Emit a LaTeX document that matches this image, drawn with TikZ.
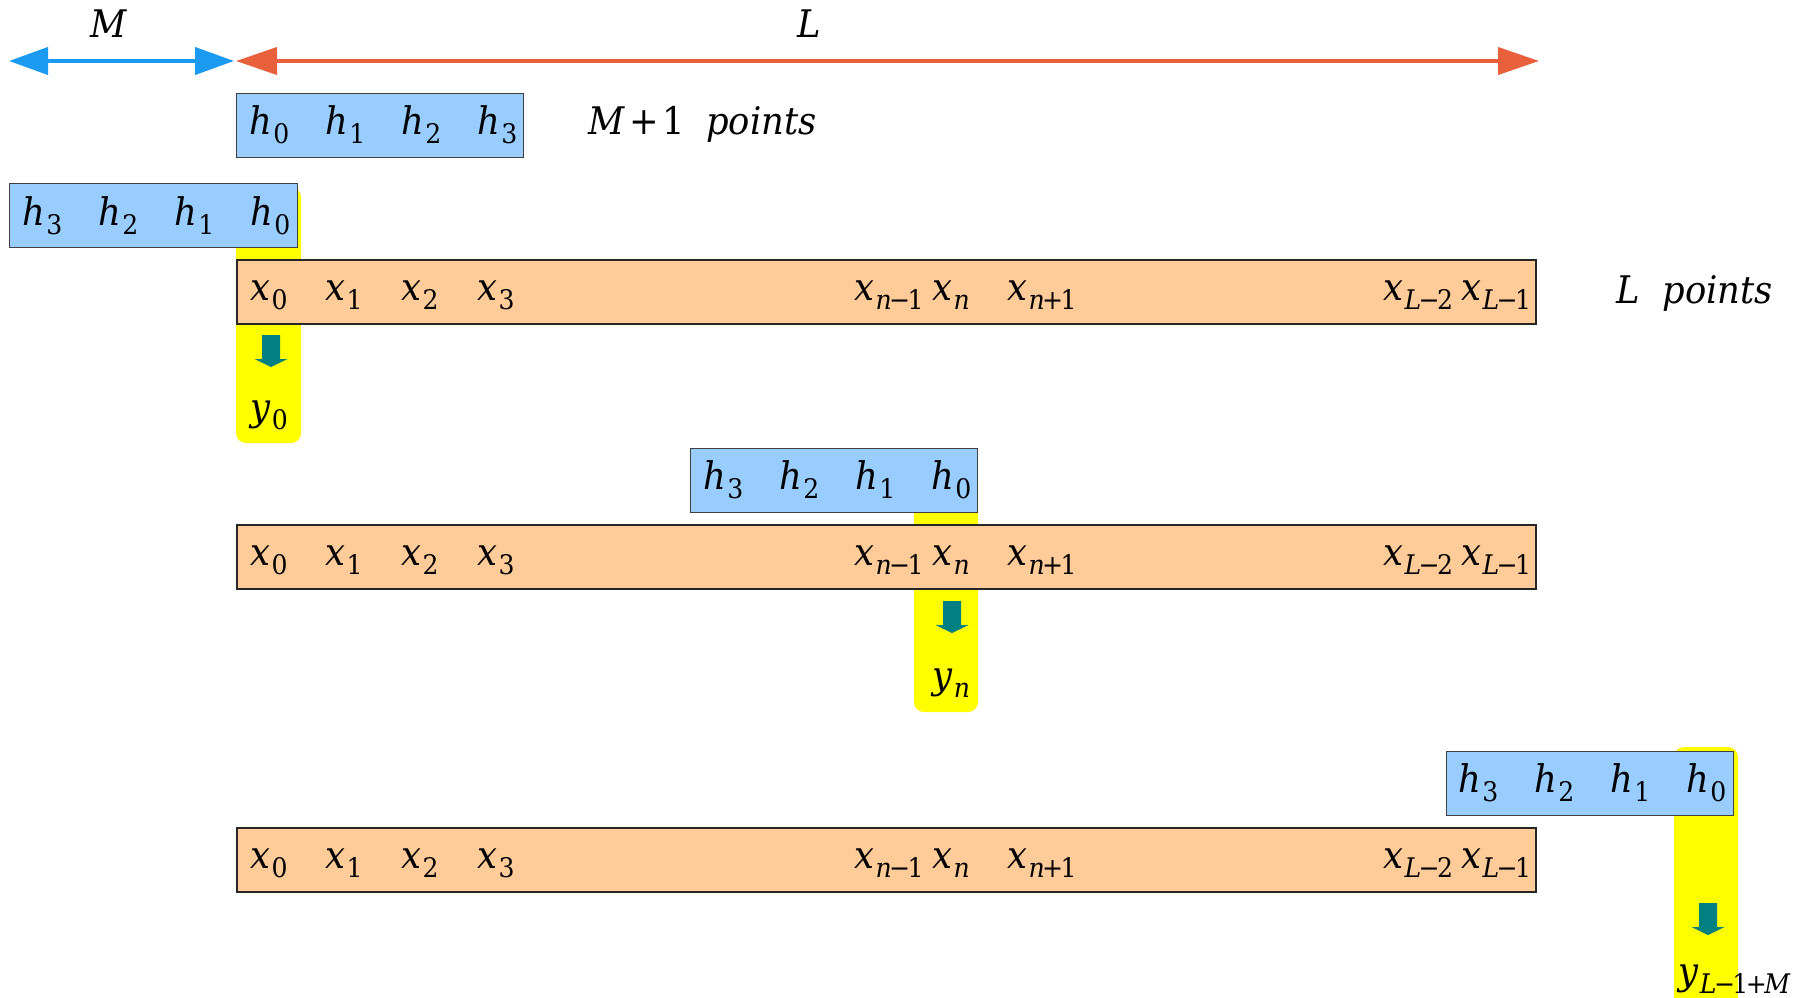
\documentclass[tikz,border=0pt]{standalone}
\usepackage{fontspec}
\setmainfont[FakeStretch=0.93]{DejaVu Serif}
\usetikzlibrary{arrows.meta}
\definecolor{hblue}{HTML}{99CCFF}
\definecolor{xorange}{HTML}{FFCC99}
\definecolor{ylw}{HTML}{FFFF00}
\definecolor{tealc}{HTML}{008080}
\definecolor{mblue}{HTML}{1A9AF0}
\definecolor{lred}{HTML}{E8603C}
\newcommand\Vs[2]{\textit{#1}\kern0.6pt\raisebox{-4.8pt}{\fontsize{13.5}{15}\selectfont #2}}
\newcommand\mn{\kern-1.3pt−\kern-1.3pt}
\newcommand\pl{\kern-1.3pt+\kern-1.3pt}
\newcommand\tealarrow[2]{\fill[tealc] (#1,#2) ++(-9,0) -- ++(18,0) -- ++(0,24) -- ++(7.5,0) -- ++(-16.5,8) -- ++(-16.5,-8) -- ++(7.5,0) -- cycle;}
\begin{document}
\begin{tikzpicture}[x=0.5pt,y=-0.5pt,
  txt/.style={inner sep=0pt, anchor=base west, font=\fontsize{19}{23}\selectfont},
  hbox/.style={draw=black!75, line width=0.6pt, fill=hblue, minimum width=143.5pt, minimum height=32pt, anchor=north west, inner sep=0pt},
  xbox/.style={draw=black!85, line width=0.8pt, fill=xorange, minimum width=649.5pt, minimum height=32pt, anchor=north west, inner sep=0pt}]
\useasboundingbox (0,0) rectangle (1808,997);
\clip (0,0) rectangle (1808,997);

% dimension arrows
\coordinate (mL) at (9,61);
\coordinate (mR) at (234,61);
\coordinate (lL) at (236,61);
\coordinate (lR) at (1539,61);
\draw[mblue, line width=2pt, {Triangle[length=19.5pt,width=13.5pt]}-{Triangle[length=19.5pt,width=13.5pt]}] (mL) -- (mR);
\draw[lred, line width=2pt, {Triangle[length=20.5pt,width=13.5pt]}-{Triangle[length=20.5pt,width=13.5pt]}] (lL) -- (lR);
\node[txt, anchor=base] (labM) at (109,37) {\textit{M}};
\node[txt, anchor=base] (labL) at (809,37) {\textit{L}};

% yellow strips
\fill[ylw, rounded corners=5pt] (236,187) rectangle (301,443);
\fill[ylw, rounded corners=5pt] (914,470) rectangle (978,712);
\fill[ylw, rounded corners=5pt] (1674,747) rectangle (1738,1030);

% blue boxes
\node[hbox] (hb1) at (236,93) {};
\node[hbox, minimum width=144pt] (hb2) at (9,183) {};
\node[hbox] (hb3) at (690,448) {};
\node[hbox] (hb4) at (1446,751) {};

% orange boxes
\node[xbox] (xb1) at (236,259) {};
\node[xbox] (xb2) at (236,524) {};
\node[xbox] (xb3) at (236,827) {};

% teal arrows
\tealarrow{271}{335}
\tealarrow{952}{601}
\tealarrow{1708}{903}

% box 1 text
\node[txt] (a0) at (249,134) {\Vs{h}{0}};
\node[txt] (a1) at (325,134) {\Vs{h}{1}};
\node[txt] (a2) at (401,134) {\Vs{h}{2}};
\node[txt] (a3) at (477,134) {\Vs{h}{3}};
\node[txt] (mp) at (588,134) {\textit{M}\kern2pt+\kern2pt1\hspace{0.55em}\textit{points}};

% box 2 text
\node[txt] (b3) at (22,225) {\Vs{h}{3}};
\node[txt] (b2) at (98,225) {\Vs{h}{2}};
\node[txt] (b1) at (174,225) {\Vs{h}{1}};
\node[txt] (b0) at (250,225) {\Vs{h}{0}};

% box 3 text
\node[txt] (c3) at (703,489) {\Vs{h}{3}};
\node[txt] (c2) at (779,489) {\Vs{h}{2}};
\node[txt] (c1) at (855,489) {\Vs{h}{1}};
\node[txt] (c0) at (931,489) {\Vs{h}{0}};

% box 4 text
\node[txt] (d3) at (1458,792) {\Vs{h}{3}};
\node[txt] (d2) at (1534,792) {\Vs{h}{2}};
\node[txt] (d1) at (1610,792) {\Vs{h}{1}};
\node[txt] (d0) at (1686,792) {\Vs{h}{0}};

% x rows
\foreach \r/\yb in {1/300, 2/565, 3/868} {
  \node[txt] (x0r\r) at (250,\yb) {\Vs{x}{0}};
  \node[txt] (x1r\r) at (325,\yb) {\Vs{x}{1}};
  \node[txt] (x2r\r) at (401,\yb) {\Vs{x}{2}};
  \node[txt] (x3r\r) at (477,\yb) {\Vs{x}{3}};
  \node[txt] (xnmr\r) at (854,\yb) {\Vs{x}{\textit{n}\mn1}};
  \node[txt] (xnr\r) at (932,\yb) {\Vs{x}{\textit{n}}};
  \node[txt] (xnpr\r) at (1007,\yb) {\Vs{x}{\textit{n}\pl1}};
  \node[txt] (xLmtr\r) at (1383,\yb) {\Vs{x}{\textit{L}\mn2}};
  \node[txt] (xLmor\r) at (1461,\yb) {\Vs{x}{\textit{L}\mn1}};
}
\node[txt] (lp) at (1616,303) {\textit{L}\hspace{0.6em}\textit{points}};

% outputs
\node[txt] (y0) at (250,420) {\Vs{y}{0}};
\node[txt] (yn) at (932,688) {\Vs{y}{\textit{n}}};
\node[txt] (yL) at (1678,984) {\Vs{y}{\textit{L}\mn1\pl\textit{M}}};
\end{tikzpicture}
\end{document}
